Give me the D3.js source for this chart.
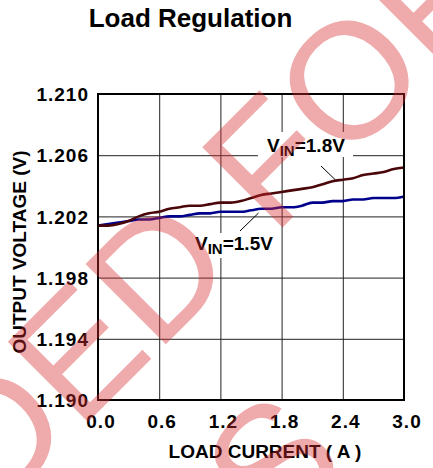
<!DOCTYPE html>
<html>
<head>
<meta charset="utf-8">
<script src="https://cdn.jsdelivr.net/npm/d3@7"></script>
<style>
  html, body { margin: 0; padding: 0; background: #fff; }
  svg { display: block; }
  text { font-family: "Liberation Sans", Arial, sans-serif; }
</style>
</head>
<body>
<svg id="chart" width="433" height="468"></svg>
<script>
// ---- data ----
const loadCurrent = [0.0, 0.1, 0.2, 0.3, 0.4, 0.5, 0.6, 0.7, 0.8, 0.9, 1.0,
                     1.1, 1.2, 1.3, 1.4, 1.5, 1.6, 1.7, 1.8, 1.9, 2.0,
                     2.1, 2.2, 2.3, 2.4, 2.5, 2.6, 2.7, 2.8, 2.9, 3.0];
const vout18 = [1.2014, 1.2014, 1.2015, 1.2017, 1.2020, 1.2022, 1.2023, 1.2025, 1.2026, 1.2027, 1.2027,
                1.2028, 1.2029, 1.2029, 1.2030, 1.2032, 1.2034, 1.2035, 1.2036, 1.2037, 1.2038,
                1.2039, 1.2041, 1.2043, 1.2044, 1.2045, 1.2047, 1.2048, 1.2049, 1.2051, 1.2052];
const vout15 = [1.2014, 1.2015, 1.2016, 1.2017, 1.2018, 1.2018, 1.2019, 1.2020, 1.2020, 1.2021, 1.2022,
                1.2022, 1.2023, 1.2023, 1.2023, 1.2024, 1.2025, 1.2025, 1.2026, 1.2026, 1.2027,
                1.2029, 1.2029, 1.2030, 1.2030, 1.2031, 1.2031, 1.2032, 1.2032, 1.2032, 1.2033];
const xTicks = [0.0, 0.6, 1.2, 1.8, 2.4, 3.0];
const yTicks = [1.190, 1.194, 1.198, 1.202, 1.206, 1.210];
const titleText = "Load Regulation";
const xTitle = "LOAD CURRENT ( A )";
const yTitle = "OUTPUT VOLTAGE (V)";
const watermarkLine1 = "NOT RECOMMENDED FOR";
const watermarkLine2 = "NEW DESIGNS";

// ---- layout ----
const svg = d3.select("#chart");
const L = 98, R = 404, T = 94, B = 400;
const x = d3.scaleLinear().domain([0, 3.0]).range([L, R]);
const y = d3.scaleLinear().domain([1.190, 1.210]).range([B, T]);

// title
svg.append("text").attr("x", 190.5).attr("y", 27).attr("text-anchor", "middle")
  .attr("font-size", 26).attr("font-weight", "bold").attr("fill", "#000").text(titleText);

// grid (via axes)
const gx = svg.append("g").attr("transform", `translate(0,${B})`)
  .call(d3.axisBottom(x).tickValues(xTicks).tickSize(-(B - T)).tickFormat(""));
gx.select(".domain").remove();
gx.selectAll("line").attr("stroke", "#222").attr("stroke-width", 1);
const gy = svg.append("g").attr("transform", `translate(${L},0)`)
  .call(d3.axisLeft(y).tickValues(yTicks).tickSize(-(R - L)).tickFormat(""));
gy.select(".domain").remove();
gy.selectAll("line").attr("stroke", "#222").attr("stroke-width", 1);

// tick labels (axes)
const ax = svg.append("g").attr("transform", `translate(0,${B})`)
  .call(d3.axisBottom(x).tickValues(xTicks).tickSize(0).tickPadding(0).tickFormat(d3.format(".1f")));
ax.select(".domain").remove();
ax.selectAll("text").attr("font-family", "Liberation Sans, Arial, sans-serif")
  .attr("font-size", 19).attr("font-weight", "bold").attr("fill", "#000")
  .attr("letter-spacing", 1).attr("dx", 2.5).attr("dy", 0).attr("y", 28);
const ay = svg.append("g").attr("transform", `translate(${L},0)`)
  .call(d3.axisLeft(y).tickValues(yTicks).tickSize(0).tickPadding(9).tickFormat(d3.format(".3f")));
ay.select(".domain").remove();
ay.selectAll("text").attr("font-family", "Liberation Sans, Arial, sans-serif")
  .attr("font-size", 19).attr("font-weight", "bold").attr("fill", "#000")
  .attr("letter-spacing", 1).attr("dy", "0.35em");

// axis titles
svg.append("text").attr("x", 265).attr("y", 458).attr("text-anchor", "middle")
  .attr("font-size", 19).attr("font-weight", "bold").attr("fill", "#000").text(xTitle);
svg.append("text").attr("transform", `translate(26,${(T + B) / 2 + 5}) rotate(-90)`)
  .attr("text-anchor", "middle")
  .attr("font-size", 19).attr("font-weight", "bold").attr("fill", "#000").text(yTitle);

// label backgrounds
svg.append("rect").attr("x", 258).attr("y", 132).attr("width", 95).attr("height", 25).attr("fill", "#fff");
svg.append("rect").attr("x", 190).attr("y", 233).attr("width", 90).attr("height", 25).attr("fill", "#fff");

// curves
const line = d3.line().x(d => x(d[0])).y(d => y(d[1])).curve(d3.curveMonotoneX);
svg.append("path").datum(loadCurrent.map((c, i) => [c, vout15[i]]))
  .attr("d", line).attr("fill", "none").attr("stroke", "#00008c").attr("stroke-width", 2.6);
svg.append("path").datum(loadCurrent.map((c, i) => [c, vout18[i]]))
  .attr("d", line).attr("fill", "none").attr("stroke", "#4a0608").attr("stroke-width", 2.6);

// curve labels
function vinLabel(px, py, val) {
  const t = svg.append("text").attr("x", px).attr("y", py)
    .attr("font-size", 19).attr("font-weight", "bold").attr("fill", "#000");
  t.append("tspan").text("V");
  t.append("tspan").attr("font-size", 15).attr("dy", 4).text("IN");
  t.append("tspan").attr("dy", -4).text("=" + val + "V");
}
vinLabel(267, 152, "1.8");
vinLabel(195, 250, "1.5");
// leader lines
svg.append("line").attr("x1", 321).attr("y1", 166).attr("x2", 335).attr("y2", 179.5)
  .attr("stroke", "#000").attr("stroke-width", 1);
svg.append("line").attr("x1", 240).attr("y1", 231).attr("x2", 258.5).attr("y2", 213)
  .attr("stroke", "#000").attr("stroke-width", 1);

// frame
svg.append("rect").attr("x", L).attr("y", T).attr("width", R - L).attr("height", B - T)
  .attr("fill", "none").attr("stroke", "#000").attr("stroke-width", 2);

// watermark overlay (two rotated lines, semi-transparent red on top)
function watermark(str, charIdx, ox, oy) {
  const g = svg.append("g").attr("pointer-events", "none");
  const t = g.append("text").attr("x", 0).attr("y", 0)
    .attr("font-size", 165).attr("fill", "rgb(215,42,47)").attr("fill-opacity", 0.4)
    .text(str);
  let cx = 0;
  try { cx = t.node().getStartPositionOfChar(charIdx).x; } catch (e) { cx = 0; }
  g.attr("transform", `translate(${ox},${oy}) rotate(-45) translate(${-cx},0)`);
}
watermark(watermarkLine1, watermarkLine1.indexOf("FOR"), 273, 237);
watermark(watermarkLine2, watermarkLine2.length - 1, 274, 542);
</script>
</body>
</html>
